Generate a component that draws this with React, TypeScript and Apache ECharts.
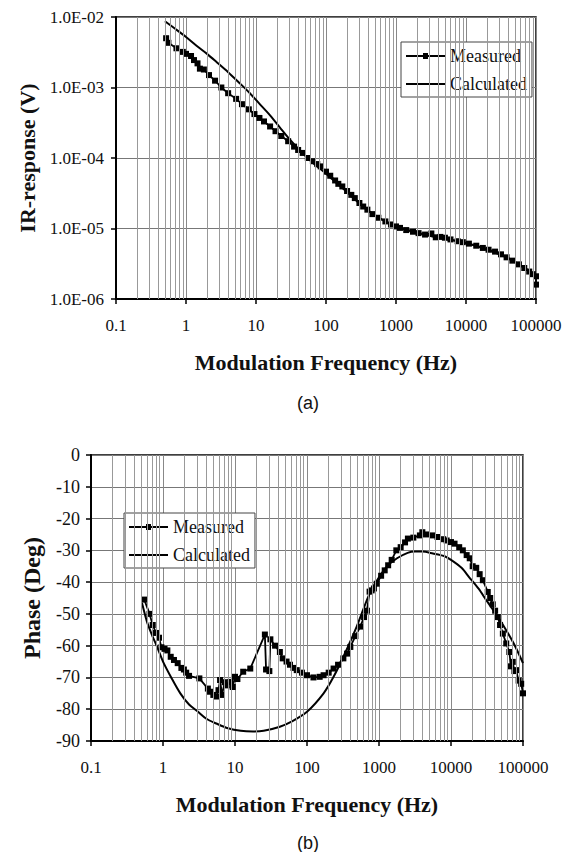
import React, { useEffect, useRef } from "react";
import * as echarts from "echarts";

// ---- (a) IR-response ----
const measFreqA = [0.52, 0.56, 0.73, 0.9, 1.0, 1.18, 1.3, 1.46, 1.58, 1.8, 2.13, 2.6, 3.2, 4.0, 5.2, 6.3, 7.9, 9.5, 11.2, 13, 15.9, 19, 23, 28.8, 35, 40, 46.5, 55, 65, 75, 84, 100, 115, 135, 150, 171, 200, 230, 258, 300, 340, 390, 460, 560, 705, 850, 1000, 1140, 1400, 1750, 2100, 2600, 3200, 3700, 4300, 5000, 6000, 7600, 9000, 11000, 14000, 17400, 21000, 26000, 31600, 38000, 46000, 57000, 68000, 80000, 90000, 100000, 100000];
const measValA = [5.0e-3, 4.3e-3, 3.6e-3, 3.2e-3, 3.0e-3, 2.8e-3, 2.45e-3, 2.2e-3, 1.85e-3, 1.8e-3, 1.5e-3, 1.25e-3, 1.0e-3, 8.3e-4, 6.9e-4, 5.8e-4, 4.9e-4, 4.2e-4, 3.7e-4, 3.3e-4, 2.8e-4, 2.4e-4, 2.05e-4, 1.73e-4, 1.45e-4, 1.3e-4, 1.18e-4, 1.0e-4, 9.0e-5, 8.2e-5, 7.6e-5, 6.4e-5, 5.6e-5, 4.8e-5, 4.3e-5, 3.95e-5, 3.4e-5, 3.0e-5, 2.7e-5, 2.3e-5, 2.05e-5, 1.85e-5, 1.6e-5, 1.42e-5, 1.26e-5, 1.14e-5, 1.07e-5, 1.02e-5, 9.5e-6, 9.0e-6, 8.6e-6, 8.2e-6, 8.5e-6, 7.5e-6, 7.6e-6, 7.4e-6, 7.0e-6, 6.6e-6, 6.4e-6, 6.1e-6, 5.7e-6, 5.3e-6, 5.0e-6, 4.7e-6, 4.3e-6, 3.9e-6, 3.5e-6, 3.1e-6, 2.75e-6, 2.45e-6, 2.25e-6, 2.1e-6, 1.6e-6];
const calcFreqA = [0.5, 0.7, 1.0, 1.4, 2.0, 2.8, 4.0, 5.6, 8, 11, 16, 22, 30.8, 45, 65, 100, 150, 200, 300, 400, 600, 800, 1000, 1500, 2000, 3000, 5000, 10000, 20000, 30000, 40000, 60000, 80000, 100000];
const calcValA = [8.7e-3, 6.8e-3, 5.2e-3, 3.95e-3, 3.0e-3, 2.25e-3, 1.65e-3, 1.2e-3, 8.5e-4, 6.0e-4, 4.0e-4, 2.7e-4, 1.8e-4, 1.2e-4, 8.5e-5, 6.0e-5, 4.2e-5, 3.3e-5, 2.25e-5, 1.8e-5, 1.38e-5, 1.18e-5, 1.07e-5, 9.5e-6, 8.7e-6, 7.9e-6, 7.1e-6, 6.2e-6, 5.0e-6, 4.3e-6, 3.8e-6, 3.0e-6, 2.5e-6, 2.0e-6];

// ---- (b) Phase ----
const measFreqB = [0.55, 0.65, 0.72, 0.8, 0.88, 0.95, 1.05, 1.15, 1.28, 1.42, 1.6, 1.8, 1.95, 2.1, 2.3, 3.2, 4.2, 4.5, 5.0, 5.5, 5.9, 6.2, 6.6, 7.2, 7.7, 8.6, 9.3, 10, 10.8, 13, 16.3, 26, 27, 30, 31, 36, 42, 46, 52, 58, 65, 72, 85, 100, 123, 150, 170, 200, 234, 270, 320, 360, 400, 470, 550, 620, 680, 740, 790, 850, 930, 1070, 1200, 1340, 1500, 1740, 2000, 2300, 2520, 3000, 3700, 4000, 4500, 5600, 6500, 7800, 8700, 10000, 11200, 13000, 14600, 16500, 18200, 20000, 22400, 25000, 27700, 32400, 35000, 38000, 41000, 44700, 48000, 52500, 58500, 64600, 68000, 72000, 76000, 80000, 87000, 94400, 100000];
const measValB = [-45.5, -50, -53.5, -56, -57.5, -60.5, -61, -61.5, -63.5, -64.5, -65.5, -67, -67.5, -68.5, -69.5, -70.3, -73.5, -74.5, -75.5, -76, -74, -70.8, -75.5, -71.5, -72.5, -71.4, -73, -69.8, -70.5, -68.2, -67.2, -56.5, -67.5, -68, -58, -60, -62, -64, -65, -66, -67, -67.7, -68.5, -69.3, -70, -69.8, -69.3, -68.5, -67.2, -66, -64, -62.5, -60.4, -57, -54, -51, -49, -43, -42.6, -42, -40.5, -38, -36.3, -34.7, -33, -30, -29, -27.5, -26.3, -26, -25.3, -24.3, -25, -25.3, -25.8, -26.5, -26.9, -27.4, -27.9, -29, -30, -31.5, -32.5, -35, -35.5, -37.5, -39.4, -43.1, -45, -47, -49, -51, -53.5, -56.2, -59.3, -62, -66.5, -65.1, -68, -67.7, -71, -72, -75];
const calcFreqB = [0.51, 0.6, 0.7, 0.85, 1.0, 1.3, 1.74, 2.3, 2.95, 4.0, 5.5, 8, 12, 17.8, 25, 42, 60, 100, 170, 234, 320, 490, 740, 1000, 1300, 1780, 2500, 3160, 4000, 5620, 8000, 10000, 14000, 17800, 24000, 31600, 42000, 56200, 75000, 100000];
const calcValB = [-46.5, -52.5, -56.5, -61, -65, -70, -75, -78.5, -80.5, -83, -84.5, -86, -86.8, -87, -86.8, -85.5, -84, -80.8, -75, -69.8, -63.5, -54, -43.6, -38.5, -35, -32.5, -30.8, -30.4, -30.4, -31, -31.8, -33, -35.5, -38.4, -42, -46, -50, -54.5, -59.5, -65.5];

const legendNames = ["Measured", "Calculated"];

// minor gridline positions (2..9 x each decade from 0.1 to 10000)
const minorFreqs: number[] = [];
[0.1, 1, 10, 100, 1000, 10000].forEach((d) => {
  for (let m = 2; m <= 9; m++) minorFreqs.push(Number((d * m).toPrecision(3)));
});

const SERIF = '"Liberation Serif", "Times New Roman", serif';
const ICON_MEASURED = "path://M0,6L39,6L39,8L0,8Z M17,4L22,4L22,10L17,10Z";
const ICON_CALC = "path://M0,0L39,0L39,2L0,2Z";

const fmtFreq = (v: number) => (v < 1 ? String(Number(v.toPrecision(1))) : String(Math.round(v)));
const fmtExp = (v: number) => {
  const e = Math.round(Math.log10(v));
  return "1.0E" + (e < 0 ? "-" : "+") + String(Math.abs(e)).padStart(2, "0");
};

const zip = (a: number[], b: number[]) => a.map((x, i) => [x, b[i]]);

export default function App() {
  const ref = useRef<HTMLDivElement>(null);
  useEffect(() => {
    if (!ref.current) return;
    const chart = echarts.init(ref.current, undefined, { renderer: "svg" });

    const xAxisBase = (gridIndex: number, nameGap: number) => ({
      type: "log",
      logBase: 10,
      gridIndex,
      min: 0.1,
      max: 100000,
      name: "Modulation Frequency (Hz)",
      nameLocation: "middle",
      nameGap,
      nameTextStyle: { fontFamily: SERIF, fontWeight: "bold", fontSize: 22, color: "#111" },
      axisLine: { show: true, onZero: false, lineStyle: { color: "#000", width: 2 } },
      axisTick: { show: true, inside: false, length: 5, lineStyle: { color: "#000", width: 1.5 } },
      axisLabel: { formatter: fmtFreq, fontFamily: SERIF, fontSize: 17, color: "#111", margin: 18 },
      splitLine: { show: true, lineStyle: { color: "#888", width: 1 } },
    });

    const gridLines = (xi: number, yi: number) => ({
      type: "line",
      name: "_grid",
      xAxisIndex: xi,
      yAxisIndex: yi,
      data: [],
      z: 1,
      silent: true,
      markLine: {
        silent: true,
        symbol: "none",
        label: { show: false },
        animation: false,
        lineStyle: { color: "#999", width: 1, type: "solid" },
        data: minorFreqs.map((v) => ({ xAxis: v })),
      },
    });

    const legendBase = (left: number, top: number) => ({
      data: [
        { name: legendNames[0], icon: ICON_MEASURED },
        { name: legendNames[1], icon: ICON_CALC },
      ],
      orient: "vertical",
      left,
      top,
      padding: [5, 5, 4, 5],
      itemWidth: 39,
      itemHeight: 14,
      itemGap: 10,
      backgroundColor: "#fff",
      borderColor: "#444",
      borderWidth: 1,
      borderRadius: 0,
      itemStyle: { color: "#000", borderWidth: 0 },
      textStyle: { fontFamily: SERIF, fontSize: 18, color: "#111" },
    });

    const measSeries = (xi: number, yi: number, data: number[][]) => ({
      type: "line",
      name: "Measured",
      xAxisIndex: xi,
      yAxisIndex: yi,
      data,
      symbol: "rect",
      symbolSize: 6,
      showSymbol: true,
      itemStyle: { color: "#000" },
      lineStyle: { color: "#000", width: 1.8 },
      z: 4,
    });

    const calcSeries = (xi: number, yi: number, data: number[][]) => ({
      type: "line",
      name: "Calculated",
      xAxisIndex: xi,
      yAxisIndex: yi,
      data,
      symbol: "none",
      showSymbol: false,
      smooth: 0.3,
      itemStyle: { color: "#000" },
      lineStyle: { color: "#000", width: 2 },
      z: 3,
    });

    chart.setOption({
      animation: false,
      backgroundColor: "#fff",
      grid: [
        { left: 116, top: 17, width: 420, height: 282, show: true, borderColor: "#000", borderWidth: 1.5, backgroundColor: "transparent" },
        { left: 91, top: 455, width: 432, height: 286, show: true, borderColor: "#000", borderWidth: 1.5, backgroundColor: "transparent" },
      ],
      legend: [legendBase(401, 42), legendBase(124, 513)],
      xAxis: [xAxisBase(0, 52), xAxisBase(1, 52)],
      yAxis: [
        {
          type: "log",
          logBase: 10,
          gridIndex: 0,
          min: 1e-6,
          max: 1e-2,
          name: "IR-response (V)",
          nameLocation: "middle",
          nameRotate: 90,
          nameGap: 75,
          nameTextStyle: { fontFamily: SERIF, fontWeight: "bold", fontSize: 22, color: "#111" },
          axisLine: { show: true, lineStyle: { color: "#000", width: 2 } },
          axisTick: { show: true, inside: false, length: 5, lineStyle: { color: "#000", width: 1.5 } },
          axisLabel: { formatter: fmtExp, fontFamily: SERIF, fontSize: 17, color: "#111", margin: 12 },
          splitLine: { show: true, lineStyle: { color: "#777", width: 1 } },
        },
        {
          type: "value",
          gridIndex: 1,
          min: -90,
          max: 0,
          interval: 10,
          name: "Phase (Deg)",
          nameLocation: "middle",
          nameRotate: 90,
          nameGap: 47,
          nameTextStyle: { fontFamily: SERIF, fontWeight: "bold", fontSize: 24, color: "#111" },
          axisLine: { show: true, onZero: false, lineStyle: { color: "#000", width: 2 } },
          axisTick: { show: true, inside: false, length: 5, lineStyle: { color: "#000", width: 1.5 } },
          axisLabel: { fontFamily: SERIF, fontSize: 18, color: "#111", margin: 11 },
          splitLine: { show: true, lineStyle: { color: "#777", width: 1 } },
        },
      ],
      series: [
        gridLines(0, 0),
        gridLines(1, 1),
        calcSeries(0, 0, zip(calcFreqA, calcValA)),
        measSeries(0, 0, zip(measFreqA, measValA)),
        calcSeries(1, 1, zip(calcFreqB, calcValB)),
        measSeries(1, 1, zip(measFreqB, measValB)),
      ],
      graphic: [
        { type: "text", x: 308, y: 403, style: { text: "(a)", align: "center", verticalAlign: "middle", fontFamily: '"Liberation Sans", Arial, sans-serif', fontSize: 18, fill: "#111" } },
        { type: "text", x: 308, y: 843, style: { text: "(b)", align: "center", verticalAlign: "middle", fontFamily: '"Liberation Sans", Arial, sans-serif', fontSize: 18, fill: "#111" } },
      ],
    } as any);

    return () => chart.dispose();
  }, []);

  return <div ref={ref} style={{ position: "absolute", left: 0, top: 0, width: 565, height: 852 }} />;
}
